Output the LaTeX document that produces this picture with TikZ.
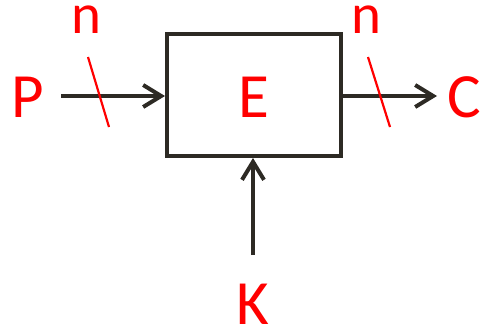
\documentclass[tikz,border=0pt]{standalone}
\usepackage{fontspec}
\setmainfont{Carlito}
\usetikzlibrary{arrows.meta}
\definecolor{ink}{HTML}{2D2A24}
\definecolor{lab}{HTML}{FF0000}
\tikzset{
  blk/.style={draw=ink, line width=4pt, minimum width=174pt, minimum height=122pt, inner sep=0pt},
  arr/.style={draw=ink, line width=4pt, -{Straight Barb[length=18pt,width=22pt,line width=4pt]}},
  slash/.style={draw=lab, line width=2.2pt},
  big/.style={text=lab, font=\fontsize{63}{63}\selectfont, inner sep=0pt, text height=40.5pt, text depth=0pt},
  small/.style={text=lab, font=\fontsize{57}{57}\selectfont, inner sep=0pt, text height=26.5pt, text depth=0pt}
}
\begin{document}
\begin{tikzpicture}[x=1pt,y=-1pt]
\useasboundingbox (0,0) rectangle (481,327);
\node[blk] (E) at (254,95) {};
\node[big] (Et) at (254,97) {E};
\node[big] (P) at (28,97) {P};
\node[big] (C) at (464,97) {C};
\node[big] (K) at (253,304) {K};
\node[small] (n1) at (86,20) {n};
\node[small] (n2) at (366,20) {n};
\coordinate (ps) at (61,96);
\coordinate (ce) at (437,96);
\coordinate (ks) at (253,255);
\draw[arr] (ps) -- (ps -| E.west);
\draw[arr] (ce -| E.east) -- (ce);
\draw[arr] (ks) -- (ks |- E.south);
\coordinate (s1a) at (88,57); \coordinate (s1b) at (109,127);
\coordinate (s2a) at (368,57); \coordinate (s2b) at (390,127);
\draw[slash] (s1a) -- (s1b);
\draw[slash] (s2a) -- (s2b);
\end{tikzpicture}
\end{document}
